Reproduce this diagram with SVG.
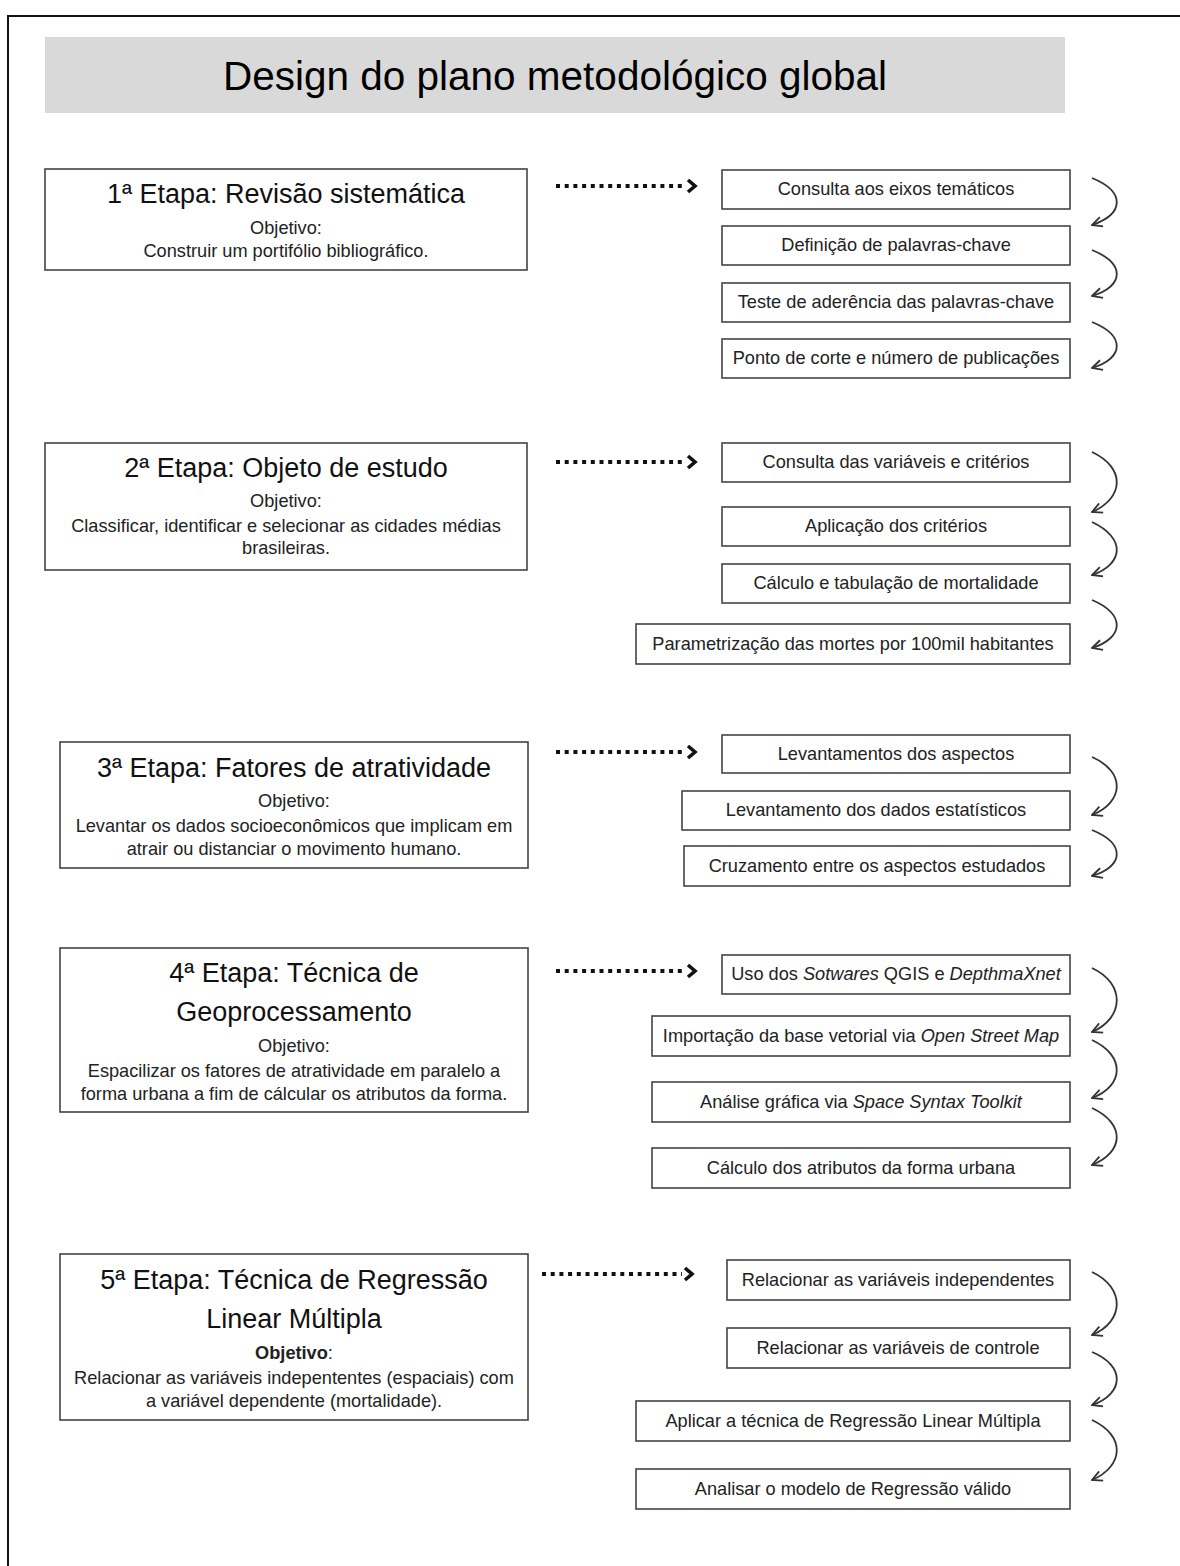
<svg xmlns="http://www.w3.org/2000/svg" width="1180" height="1566" viewBox="0 0 1180 1566">
<defs>
<style>
text{font-family:"Liberation Sans",Arial,sans-serif;fill:#1a1a1a;text-anchor:middle}
.ttl{font-size:40.5px;fill:#000}
.st{font-size:27px;fill:#111}
.sm{font-size:18.2px;fill:#222}
.box{fill:#fff;stroke:#444;stroke-width:1.6}
.dot{fill:none;stroke:#111;stroke-width:4;stroke-dasharray:4 4.7}
.chev{fill:none;stroke:#111;stroke-width:3.6;stroke-linejoin:miter}
.crv{fill:none;stroke:#333;stroke-width:1.8;marker-end:url(#ah)}
</style>
<marker id="ah" viewBox="0 0 12 12" refX="11" refY="6" markerWidth="12" markerHeight="12" markerUnits="userSpaceOnUse" orient="auto">
<path d="M1,1 L11,6 L1,11" fill="none" stroke="#333" stroke-width="1.8"/>
</marker>
</defs>
<rect x="0" y="0" width="1180" height="1566" fill="#fff"/>
<rect x="8" y="16" width="1200" height="1600" fill="none" stroke="#111" stroke-width="2"/>

<g id="title">
<rect x="45" y="37" width="1020" height="76" fill="#d9d9d9"/>
<text class="ttl" x="555" y="90">Design do plano metodológico global</text>
</g>

<g id="etapa1">
<rect class="box" x="45" y="169" width="482" height="101"/>
<text class="st" x="286" y="203">1ª Etapa: Revisão sistemática</text>
<text class="sm" x="286" y="234">Objetivo:</text>
<text class="sm" x="286" y="257">Construir um portifólio bibliográfico.</text>
</g>
<g id="etapa2">
<rect class="box" x="45" y="443" width="482" height="127"/>
<text class="st" x="286" y="477">2ª Etapa: Objeto de estudo</text>
<text class="sm" x="286" y="507">Objetivo:</text>
<text class="sm" x="286" y="532">Classificar, identificar e selecionar as cidades médias</text>
<text class="sm" x="286" y="554">brasileiras.</text>
</g>
<g id="etapa3">
<rect class="box" x="60" y="742" width="468" height="126"/>
<text class="st" x="294" y="777">3ª Etapa: Fatores de atratividade</text>
<text class="sm" x="294" y="807">Objetivo:</text>
<text class="sm" x="294" y="832">Levantar os dados socioeconômicos que implicam em</text>
<text class="sm" x="294" y="855">atrair ou distanciar o movimento humano.</text>
</g>
<g id="etapa4">
<rect class="box" x="60" y="948" width="468" height="164"/>
<text class="st" x="294" y="982">4ª Etapa: Técnica de</text>
<text class="st" x="294" y="1021">Geoprocessamento</text>
<text class="sm" x="294" y="1052">Objetivo:</text>
<text class="sm" x="294" y="1077">Espacilizar os fatores de atratividade em paralelo a</text>
<text class="sm" x="294" y="1100">forma urbana a fim de cálcular os atributos da forma.</text>
</g>
<g id="etapa5">
<rect class="box" x="60" y="1254" width="468" height="166"/>
<text class="st" x="294" y="1289">5ª Etapa: Técnica de Regressão</text>
<text class="st" x="294" y="1328">Linear Múltipla</text>
<text class="sm" x="294" y="1359"><tspan font-weight="bold">Objetivo</tspan>:</text>
<text class="sm" x="294" y="1384">Relacionar as variáveis indepententes (espaciais) com</text>
<text class="sm" x="294" y="1407">a variável dependente (mortalidade).</text>
</g>

<g id="s1-1"><rect class="box" x="722" y="170" width="348" height="39"/><text class="sm" x="896" y="195">Consulta aos eixos temáticos</text></g>
<g id="s1-2"><rect class="box" x="722" y="226" width="348" height="39"/><text class="sm" x="896" y="251">Definição de palavras-chave</text></g>
<g id="s1-3"><rect class="box" x="722" y="283" width="348" height="39"/><text class="sm" x="896" y="308">Teste de aderência das palavras-chave</text></g>
<g id="s1-4"><rect class="box" x="722" y="339" width="348" height="39"/><text class="sm" x="896" y="364">Ponto de corte e número de publicações</text></g>

<g id="s2-1"><rect class="box" x="722" y="443" width="348" height="39"/><text class="sm" x="896" y="468">Consulta das variáveis e critérios</text></g>
<g id="s2-2"><rect class="box" x="722" y="507" width="348" height="39"/><text class="sm" x="896" y="532">Aplicação dos critérios</text></g>
<g id="s2-3"><rect class="box" x="722" y="564" width="348" height="39"/><text class="sm" x="896" y="589">Cálculo e tabulação de mortalidade</text></g>
<g id="s2-4"><rect class="box" x="636" y="624" width="434" height="40"/><text class="sm" x="853" y="650">Parametrização das mortes por 100mil habitantes</text></g>

<g id="s3-1"><rect class="box" x="722" y="735" width="348" height="38"/><text class="sm" x="896" y="760">Levantamentos dos aspectos</text></g>
<g id="s3-2"><rect class="box" x="682" y="791" width="388" height="39"/><text class="sm" x="876" y="816">Levantamento dos dados estatísticos</text></g>
<g id="s3-3"><rect class="box" x="684" y="846" width="386" height="40"/><text class="sm" x="877" y="872">Cruzamento entre os aspectos estudados</text></g>

<g id="s4-1"><rect class="box" x="722" y="955" width="348" height="39"/><text class="sm" x="896" y="980">Uso dos <tspan font-style="italic">Sotwares</tspan> QGIS e <tspan font-style="italic">DepthmaXnet</tspan></text></g>
<g id="s4-2"><rect class="box" x="652" y="1016" width="418" height="40"/><text class="sm" x="861" y="1042">Importação da base vetorial via <tspan font-style="italic">Open Street Map</tspan></text></g>
<g id="s4-3"><rect class="box" x="652" y="1082" width="418" height="40"/><text class="sm" x="861" y="1108">Análise gráfica via <tspan font-style="italic">Space Syntax Toolkit</tspan></text></g>
<g id="s4-4"><rect class="box" x="652" y="1148" width="418" height="40"/><text class="sm" x="861" y="1174">Cálculo dos atributos da forma urbana</text></g>

<g id="s5-1"><rect class="box" x="727" y="1260" width="343" height="40"/><text class="sm" x="898" y="1286">Relacionar as variáveis independentes</text></g>
<g id="s5-2"><rect class="box" x="727" y="1328" width="343" height="40"/><text class="sm" x="898" y="1354">Relacionar as variáveis de controle</text></g>
<g id="s5-3"><rect class="box" x="636" y="1401" width="434" height="40"/><text class="sm" x="853" y="1427">Aplicar a técnica de Regressão Linear Múltipla</text></g>
<g id="s5-4"><rect class="box" x="636" y="1469" width="434" height="40"/><text class="sm" x="853" y="1495">Analisar o modelo de Regressão válido</text></g>

<g id="connectors">
<line class="dot" x1="556" y1="186" x2="686" y2="186"/><polyline class="chev" points="688,180 695,186 688,192"/>
<line class="dot" x1="556" y1="462" x2="686" y2="462"/><polyline class="chev" points="688,456 695,462 688,468"/>
<line class="dot" x1="556" y1="752" x2="686" y2="752"/><polyline class="chev" points="688,746 695,752 688,758"/>
<line class="dot" x1="556" y1="971" x2="686" y2="971"/><polyline class="chev" points="688,965 695,971 688,977"/>
<line class="dot" x1="542" y1="1274" x2="682" y2="1274"/><polyline class="chev" points="685,1268 692,1274 685,1280"/>

<path class="crv" d="M1092,178 C1126,192 1124,214 1092,225"/>
<path class="crv" d="M1092,250 C1126,264 1124,286 1092,296"/>
<path class="crv" d="M1092,322 C1126,336 1124,358 1092,368"/>

<path class="crv" d="M1092,452 C1126,468 1124,498 1092,512"/>
<path class="crv" d="M1092,522 C1126,538 1124,564 1092,575"/>
<path class="crv" d="M1092,600 C1126,614 1124,638 1092,648"/>

<path class="crv" d="M1092,757 C1126,772 1124,802 1092,815"/>
<path class="crv" d="M1092,830 C1126,844 1124,866 1092,876"/>

<path class="crv" d="M1092,968 C1126,984 1124,1018 1092,1032"/>
<path class="crv" d="M1092,1040 C1126,1056 1124,1086 1092,1098"/>
<path class="crv" d="M1092,1108 C1126,1124 1124,1152 1092,1165"/>

<path class="crv" d="M1092,1272 C1126,1288 1124,1322 1092,1335"/>
<path class="crv" d="M1092,1352 C1126,1366 1124,1394 1092,1405"/>
<path class="crv" d="M1092,1420 C1126,1436 1124,1466 1092,1480"/>
</g>
</svg>
